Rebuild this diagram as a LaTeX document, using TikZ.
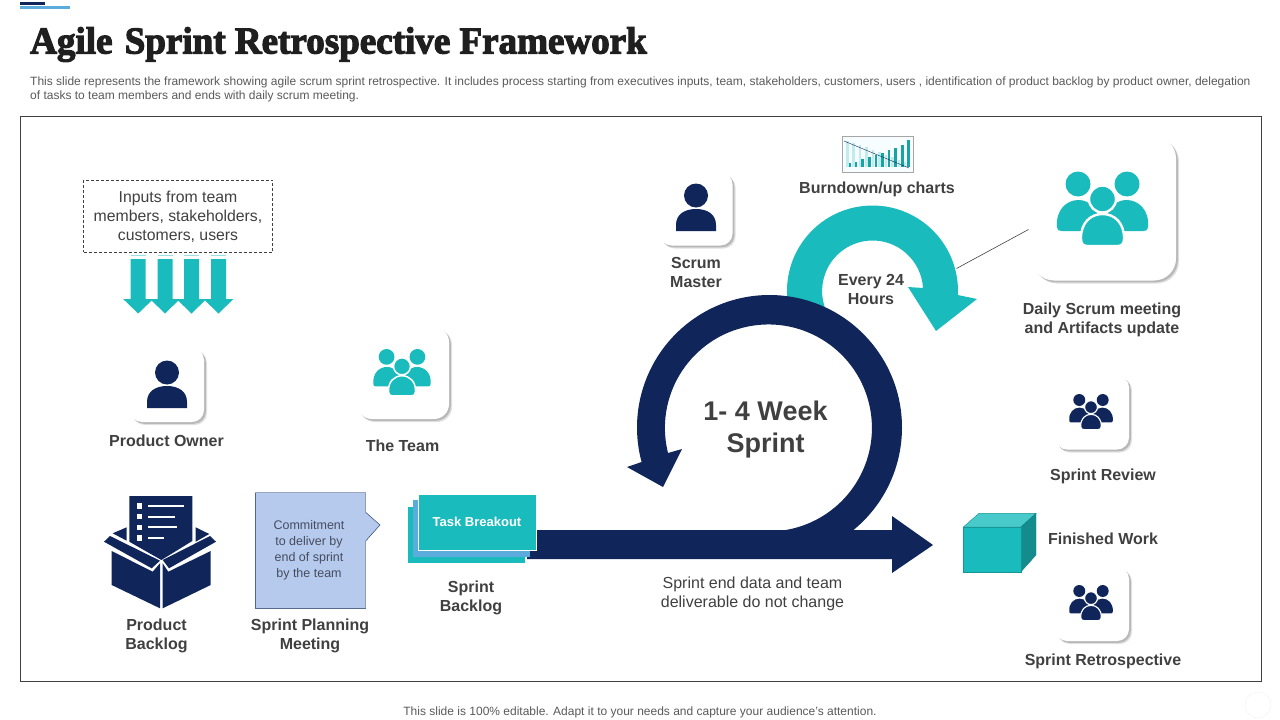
\documentclass[tikz,border=0pt]{standalone}
\usepackage{fontspec}
\setmainfont{Liberation Sans}
\newfontfamily\titlefont{Liberation Serif}[BoldFeatures={FakeBold=3,FakeStretch=0.975}]
\usetikzlibrary{shadows}
\definecolor{navy}{HTML}{10265A}
\definecolor{aqua}{HTML}{1ABBBD}
\definecolor{skyblue}{HTML}{5BACDC}
\definecolor{inkgray}{HTML}{404040}
\definecolor{notegray}{HTML}{595959}
\definecolor{planblue}{HTML}{B6CAEE}
\tikzset{
  tilebox/.style={fill=white, rounded corners=12pt, inner sep=0pt, minimum size=#1,
    drop shadow={shadow xshift=3pt, shadow yshift=-3pt, fill=black!12, opacity=1},
    drop shadow={shadow xshift=1.8pt, shadow yshift=-1.8pt, fill=black!28, opacity=1}},
  boldlabel/.style={text=inkgray, align=center, inner sep=0pt, font=\bfseries\fontsize{16}{19}\selectfont},
  pluslabel/.style={text=inkgray, align=center, inner sep=0pt, font=\fontsize{16}{19}\selectfont},
}

\begin{document}
\begin{tikzpicture}[x=1pt, y=-1pt]
  \newcommand\PersonIcon[2]{
    \fill[navy](#1,#2-13.5) circle(12);
    \fill[navy](#1-20,#2+22)--(#1+20,#2+22)--(#1+20,#2+16) .. controls (#1+20,#2+5) and (#1+11,#2) .. (#1,#2)
      .. controls (#1-11,#2) and (#1-20,#2+5) .. (#1-20,#2+16)--cycle;
  }
  \newcommand\PeopleIcon[4]{
    \begin{scope}[shift={(#1,#2)}, scale=#3]
      \fill[#4](-24.5,-31) circle(12.5);
      \fill[#4](24.5,-31) circle(12.5);
      \fill[#4](-45.5,12) .. controls (-47,-5) and (-36,-15) .. (-24,-15) .. controls (-12,-15) and (-3,-5) .. (0,16)--(-41,16)
        .. controls (-44,16) and (-45.5,15) .. (-45.5,12)--cycle;
      \fill[#4](45.5,12) .. controls (47,-5) and (36,-15) .. (24,-15) .. controls (12,-15) and (3,-5) .. (0,16)--(41,16)
        .. controls (44,16) and (45.5,15) .. (45.5,12)--cycle;
      \filldraw[fill=#4, draw=white, line width=#3*2.4pt](0,-16) circle(13.5);
      \filldraw[fill=#4, draw=white, line width=#3*2.4pt](-21.5,24) .. controls (-22,8) and (-12,-1) .. (0,-1)
        .. controls (12,-1) and (22,8) .. (21.5,24) .. controls (21.5,29) and (19,31) .. (15,31)--(-15,31)
        .. controls (-19,31) and (-21.5,29) .. (-21.5,24)--cycle;
    \end{scope}
  }

  \useasboundingbox (0,0) rectangle (1280,720);

  %% top marks and heading
  \fill[navy](20,2.3) rectangle (45,5);
  \fill[skyblue](20,6) rectangle (70,9);
  \node[anchor=base west, inner sep=0pt, text=black!88, font=\titlefont\bfseries\fontsize{38}{38}\selectfont]
    (heading) at (30,53.5) {Agile\hspace{3pt} Sprint Retrospective Framework};
  \node[anchor=west, inner sep=0pt, align=left, text=notegray, font=\fontsize{12}{14}\selectfont] (intro) at (30,89)
    {This slide represents the framework showing agile scrum sprint retrospective. It includes process starting from executives inputs, team, stakeholders, customers, users , identification of product backlog by product owner, delegation\\
     of tasks to team members and ends with daily scrum meeting.};
  \draw[inkgray](20.5,116.5) rectangle (1261.5,681.5);

  %% inputs
  \node[draw=inkgray, densely dashed, minimum width=189pt, minimum height=72pt, inner sep=0pt, pluslabel, font=\fontsize{15.8}{19}\selectfont] (inputs) at (178,216.3)
    {Inputs from team\\members, stakeholders,\\customers, users};
  \foreach \ax in {138.2,165,191.5,218.5}{
    \draw[aqua!45](\ax-7.5,255.5)--(\ax+7.5,255.5);
    \fill[aqua](\ax-7.5,259)--(\ax+7.5,259)--(\ax+7.5,299)--(\ax+15,299)--(\ax,313.5)--(\ax-15,299)--(\ax-7.5,299)--cycle;
  }

  %% tiles
  \node[tilebox=74pt] (ownertile) at (167,385) {};
  \PersonIcon{167}{386}
  \node[boldlabel] (ownerlabel) at (166.5,441) {Product Owner};
  \node[tilebox=92pt, rounded corners=15pt] (teamtile) at (403,373) {};
  \PeopleIcon{402}{376.4}{0.63}{aqua}
  \node[boldlabel] (teamlabel) at (402.5,445.5) {The Team};
  \node[tilebox=73pt] (scrumtile) at (696,209) {};
  \PersonIcon{696}{209}
  \node[boldlabel] (scrumlabel) at (696,272.5) {Scrum\\Master};
  \node[tilebox=144pt, rounded corners=22pt] (dailytile) at (1104,208.5) {};
  \PeopleIcon{1102.5}{215}{1}{aqua}
  \node[boldlabel] (dailylabel) at (1102,319.5) {Daily Scrum meeting\\and Artifacts update};
  \node[tilebox=74pt] (reviewtile) at (1092,412.5) {};
  \PeopleIcon{1091}{414.8}{0.478}{navy}
  \node[boldlabel] (reviewlabel) at (1103,476) {Sprint Review};
  \node[tilebox=74pt] (retrotile) at (1092,604) {};
  \PeopleIcon{1091}{605.8}{0.478}{navy}
  \node[boldlabel] (retrolabel) at (1103,661) {Sprint Retrospective};

  %% burndown chart
  \node[draw=black!35, fill=cyan!3, minimum width=70.5pt, minimum height=36.5pt, inner sep=0pt] (chart) at (877.5,154.4) {};
  \foreach \bx/\bt in {847.5/141,853.5/143,860/145,866.5/147,873/150,879.5/152,886/155,892.5/157,899/160,905/162}
    \fill[aqua!28](\bx-1.4,\bt) rectangle (\bx+1.4,166.7);
  \foreach \bx/\bt in {850/163.3,856/161.7,862.7/159.3,869.3/157.3,876/155,882.3/152.7,889/150,895.7/147.7,902.3/145,908.3/140}
    \fill[aqua!88!black](\bx-1.4,\bt) rectangle (\bx+1.4,166.7);
  \coordinate (chartstart) at (844,141);
  \coordinate (chartend) at (909,168);
  \draw[navy](chartstart)--(chartend);
  \node[boldlabel] (chartlabel) at (877,189) {Burndown/up charts};

  %% daily arc, sits under the sprint ring
  \coordinate (dailyc) at (872.5,291);
  \fill[aqua](dailyc) ++(170:85.5) arc[start angle=170, end angle=362.7, radius=85.5]
    --(977,299)--(936,331)--(908,287)--(923,288) arc[start angle=356.6, end angle=157, radius=50.5]--cycle;
  \coordinate (arcedge) at (956.5,268.5);
  \coordinate (dailyfoot) at (1028.5,229.5);
  \draw[inkgray, line width=0.6pt](arcedge)--(dailyfoot);
  \node[boldlabel] (dailyhours) at (871,289) {Every 24\\Hours};

  %% sprint ring and bar
  \coordinate (sprintc) at (769.5,427.5);
  \fill[navy](sprintc) ++(50.7:132.5) arc[start angle=50.7, end angle=-195.1, radius=132.5]
    --(627,467)--(663,487)--(682,449)--(668,453) arc[start angle=-194, end angle=90, radius=103.5]--cycle;
  \fill[navy](527,530)--(892,530)--(892,516)--(933,545)--(892,573)--(892,559)--(527,559)--cycle;
  \node[text=inkgray, align=center, inner sep=0pt, font=\bfseries\fontsize{27}{32}\selectfont] (sprintlabel) at (765.5,430) {1- 4 Week\\Sprint};
  \node[pluslabel] (barlabel) at (752.5,594) {Sprint end data and team\\deliverable do not change};

  %% backlog box
  \fill[navy](129.3,496)--(192.3,496)--(192.3,541)--(161.4,560)--(129.3,541.7)--cycle;
  \fill[navy](112.7,533.3)--(126.7,527.3)--(126.7,540.7)--cycle;
  \fill[navy](209.3,534)--(195.7,527.3)--(195.7,541.7)--cycle;
  \foreach \ly/\lx in {506/184,516.7/175,527.3/177,538/164}{
    \fill[white](136.7,\ly-2.7) rectangle (142.3,\ly+2.7);
    \fill[white](148,\ly-1.1) rectangle (\lx,\ly+1.1);
  }
  \fill[navy](104,541.7)--(110,536)--(160,560.7)--(151.7,568.3)--cycle;
  \fill[navy](216,541.7)--(210,536)--(162.7,560)--(169,568.3)--cycle;
  \fill[navy](111.7,551)--(152.7,571.7)--(160,563.3)--(160,608.3)--(111.7,585)--cycle;
  \fill[navy](210.7,551)--(168.3,571.7)--(162.7,563.3)--(162.7,608.3)--(210.7,585)--cycle;
  \node[boldlabel] (backloglabel) at (156.5,636) {Product\\Backlog};

  %% planning note
  \draw[navy, fill=planblue](255.3,492.7)--(365.7,492.7)--(365.7,512.3)--(380,525)--(365.7,541)--(365.7,608.3)--(255.3,608.3)--cycle;
  \node[align=center, inner sep=0pt, text=black!55!navy!75, font=\fontsize{12.5}{16}\selectfont] (planningnote) at (309,550.5)
    {Commitment\\to deliver by\\end of sprint\\by the team};
  \node[boldlabel] (planninglabel) at (310,636) {Sprint Planning\\Meeting};

  %% task stack
  \fill[aqua](408,507) rectangle (525,563);
  \fill[skyblue](413,500) rectangle (530,557);
  \node[draw=white, fill=aqua, minimum width=118pt, minimum height=56pt, inner sep=0pt, text=white,
    font=\bfseries\fontsize{13}{15}\selectfont] (taskbox) at (477,522) {Task Breakout};
  \node[boldlabel] (tasklabel) at (471,597.5) {Sprint\\Backlog};

  %% finished work block
  \filldraw[draw=aqua!80!black, fill=aqua!80!white](963.3,527)--(979,513.3)--(1036,513.3)--(1021,527)--cycle;
  \filldraw[draw=aqua!70!black, fill=aqua!75!black](1021,527)--(1036,513.3)--(1036,555)--(1021,571.7)--cycle;
  \filldraw[draw=aqua!80!black, fill=aqua](963.3,527) rectangle (1021,571.7);
  \node[boldlabel] (finishedlabel) at (1103,538.5) {Finished Work};

  \node[inner sep=0pt, text=notegray, font=\fontsize{12}{14}\selectfont] (footnote) at (640,712)
    {This slide is 100\% editable. Adapt it to your needs and capture your audience's attention.};
  \draw[black!6](1258,705) circle(13);
\end{tikzpicture}
\end{document}
